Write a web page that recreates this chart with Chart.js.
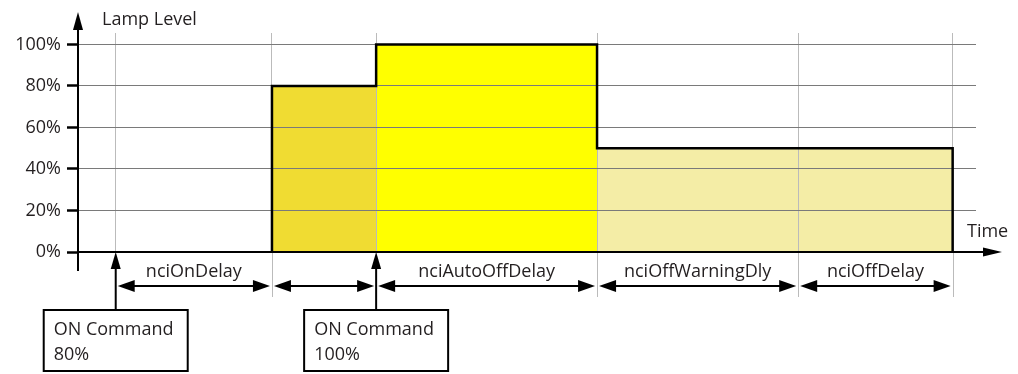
<!DOCTYPE html>
<html><head><meta charset="utf-8">
<script src="https://cdn.jsdelivr.net/npm/chart.js@4"></script>
<style>html,body{margin:0;padding:0;background:#fff}#wrap{width:1018px;height:374px;position:relative}</style>
</head><body><div id="wrap"><canvas id="c"></canvas></div>
<script>
// ---- data ----
const yTickValues = [0, 20, 40, 60, 80, 100];
const eventTimes = [4.2, 21.6, 33.2, 57.8, 80.2, 97.4];
const segStart = [21.6, 33.2, 57.8];
const segEnd = [33.2, 57.8, 97.4];
const segLevel = [80, 100, 50];
const commandTimes = [4.2, 33.2];
const commandLines = [['ON Command', '80%'], ['ON Command', '100%']];
const delayStart = [4.2, 21.6, 33.2, 57.8, 80.2];
const delayEnd = [21.6, 33.2, 57.8, 80.2, 97.4];
const delayLabels = ['nciOnDelay', '', 'nciAutoOffDelay', 'nciOffWarningDly', 'nciOffDelay'];
const yTitle = 'Lamp Level';
const xTitle = 'Time';

// ---- styles ----
const segColors = ['#F0DC32', '#FFFF00', '#F4EDA6'];
const FONT = '18px "Open Sans"';
const TEXT = '#231f20';

const outline = [{x: segStart[0], y: 0}];
segStart.forEach((s, i) => { outline.push({x: s, y: segLevel[i]}, {x: segEnd[i], y: segLevel[i]}); });
outline.push({x: segEnd[segEnd.length - 1], y: 0});

const datasets = [{
  data: outline, borderColor: '#000', borderWidth: 2.5, fill: false, pointRadius: 0,
  tension: 0, borderJoinStyle: 'miter', order: 0
}];
segStart.forEach((s, i) => {
  datasets.push({
    data: [{x: s, y: segLevel[i]}, {x: segEnd[i], y: segLevel[i]}],
    backgroundColor: segColors[i], borderWidth: 0, fill: 'origin', pointRadius: 0, order: 1
  });
});

function line(ctx, x1, y1, x2, y2) { ctx.beginPath(); ctx.moveTo(x1, y1); ctx.lineTo(x2, y2); ctx.stroke(); }
function tri(ctx, pts) { ctx.beginPath(); ctx.moveTo(pts[0], pts[1]); ctx.lineTo(pts[2], pts[3]); ctx.lineTo(pts[4], pts[5]); ctx.closePath(); ctx.fill(); }

const overlay = {
  id: 'overlay',
  beforeDatasetDraw(chart, args) {
    if (args.index === 0) {
      chart.scales.x.drawGrid(chart.chartArea);
      chart.scales.y.drawGrid(chart.chartArea);
    }
  },
  afterDraw(chart) {
    const ctx = chart.ctx, xs = chart.scales.x, ys = chart.scales.y, ca = chart.chartArea;
    const x0 = xs.getPixelForValue(0), y0 = ys.getPixelForValue(0);
    ctx.save();
    // grid extensions below the axis
    ctx.strokeStyle = '#bbb'; ctx.lineWidth = 1;
    eventTimes.forEach(t => {
      if (commandTimes.includes(t)) return;
      const px = Math.round(xs.getPixelForValue(t)) + 0.5;
      line(ctx, px, y0, px, y0 + 45);
    });
    // axes
    ctx.strokeStyle = '#000'; ctx.fillStyle = '#000'; ctx.lineWidth = 2;
    line(ctx, x0, y0 + 19, x0, ca.top - 4);
    tri(ctx, [x0 - 5, ca.top - 3, x0 + 5, ca.top - 3, x0, ca.top - 21]);
    line(ctx, x0, y0, ca.right + 8, y0);
    tri(ctx, [ca.right + 7, y0 - 4.5, ca.right + 7, y0 + 4.5, ca.right + 26, y0]);
    // titles
    ctx.font = FONT; ctx.fillStyle = TEXT; ctx.textBaseline = 'alphabetic'; ctx.textAlign = 'left';
    ctx.fillText(yTitle, x0 + 24, ca.top - 8);
    ctx.fillText(xTitle, ca.right - 9, y0 - 15);
    // delay arrows
    ctx.fillStyle = '#000';
    const ay = y0 + 34;
    delayStart.forEach((s, i) => {
      const a = xs.getPixelForValue(s) + 2, b = xs.getPixelForValue(delayEnd[i]) - 2;
      line(ctx, a + 10, ay, b - 10, ay);
      tri(ctx, [a, ay, a + 17, ay - 6, a + 17, ay + 6]);
      tri(ctx, [b, ay, b - 17, ay - 6, b - 17, ay + 6]);
      if (delayLabels[i]) {
        ctx.fillStyle = TEXT; ctx.textAlign = 'center';
        ctx.fillText(delayLabels[i], (a + b) / 2, y0 + 25);
        ctx.fillStyle = '#000';
      }
    });
    // command arrows + boxes
    commandTimes.forEach((t, i) => {
      const px = xs.getPixelForValue(t);
      const bt = y0 + 58;
      line(ctx, px, bt, px, y0 + 12);
      tri(ctx, [px - 5, y0 + 17, px + 5, y0 + 17, px, y0]);
      ctx.strokeRect(px - 72, bt, 144, 61);
      ctx.fillStyle = TEXT; ctx.textAlign = 'left';
      ctx.fillText(commandLines[i][0], px - 62, y0 + 83);
      ctx.fillText(commandLines[i][1], px - 62, y0 + 108);
      ctx.fillStyle = '#000';
    });
    ctx.restore();
  }
};

new Chart(document.getElementById('c'), {
  type: 'line',
  data: {datasets},
  options: {
    responsive: true, maintainAspectRatio: false, animation: false, devicePixelRatio: 1,
    events: [],
    layout: {padding: {top: 33, right: 42, left: 0, bottom: 0}},
    plugins: {legend: {display: false}, tooltip: {enabled: false}},
    scales: {
      x: {
        type: 'linear', min: 0, max: 100,
        afterBuildTicks: s => { s.ticks = eventTimes.map(v => ({value: v})); },
        ticks: {display: false},
        grid: {color: '#bbb', lineWidth: 1, drawTicks: false},
        border: {display: false},
        afterFit: s => { s.height = 122; }
      },
      y: {
        min: 0, max: 105.5,
        afterBuildTicks: s => { s.ticks = yTickValues.map(v => ({value: v})); },
        ticks: {callback: v => v + '%', font: {family: 'Open Sans', size: 18}, color: TEXT, padding: 6},
        grid: {color: '#7a7a7a', lineWidth: 1, tickLength: 11, tickColor: '#000', tickWidth: 2},
        border: {display: false},
        afterFit: s => { s.width = 78; }
      }
    }
  },
  plugins: [overlay]
});
</script></body></html>
